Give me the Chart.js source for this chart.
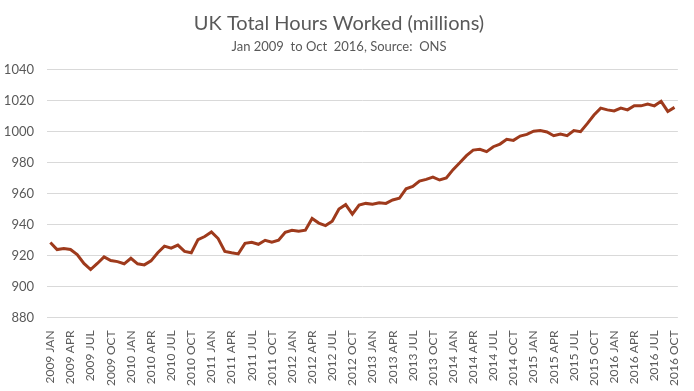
<!DOCTYPE html>
<html>
<head>
<meta charset="utf-8">
<script src="https://cdn.jsdelivr.net/npm/chart.js@4"></script>
<style>
    html, body { margin: 0; padding: 0; background: #fff; }
    #wrap { width: 694px; height: 391px; }
</style>
</head>
<body>
<div id="wrap"><canvas id="hoursChart"></canvas></div>
<script>
// Categories: monthly, Jan 2009 to Oct 2016
const years = [2009, 2010, 2011, 2012, 2013, 2014, 2015, 2016];
const months = ['JAN', 'FEB', 'MAR', 'APR', 'MAY', 'JUN', 'JUL', 'AUG', 'SEP', 'OCT', 'NOV', 'DEC'];
const lastMonthCount = 10; // 2016 stops at OCT

// Total hours worked (millions)
const hours2009 = [928.3, 923.8, 924.4, 923.8, 920.6, 914.8, 910.9, 914.8, 919.1, 916.7, 916.0, 914.6];
const hours2010 = [918.2, 914.6, 913.9, 916.5, 921.7, 926.0, 924.7, 926.7, 922.6, 921.7, 930.2, 932.2];
const hours2011 = [935.2, 930.9, 922.6, 921.7, 921.0, 927.8, 928.5, 927.2, 929.8, 928.5, 929.8, 935.0];
const hours2012 = [936.3, 935.6, 936.3, 943.9, 940.9, 939.3, 942.1, 950.0, 952.8, 946.7, 952.5, 953.6];
const hours2013 = [953.0, 954.0, 953.6, 955.8, 956.9, 963.0, 964.5, 968.0, 969.1, 970.6, 968.7, 970.0];
const hours2014 = [975.4, 979.8, 984.4, 988.0, 988.5, 987.0, 990.2, 991.9, 995.0, 994.3, 997.1, 998.2];
const hours2015 = [1000.2, 1000.6, 999.7, 997.3, 998.4, 997.3, 1000.6, 999.9, 1005.1, 1010.7, 1015.1, 1014.0];
const hours2016 = [1013.3, 1015.1, 1014.0, 1016.6, 1016.6, 1017.7, 1016.6, 1019.5, 1013.0, 1015.6];

const yMin = 880;
const yMax = 1040;
const yStep = 20;

const labels = [];
years.forEach((y, yi) => {
    const n = yi === years.length - 1 ? lastMonthCount : 12;
    for (let m = 0; m < n; m++) labels.push(y + ' ' + months[m]);
});
const values = [].concat(hours2009, hours2010, hours2011, hours2012, hours2013, hours2014, hours2015, hours2016);

const textColor = '#595959';
const fontFamily = 'Lato, "Liberation Sans", sans-serif';

const ctx = document.getElementById('hoursChart').getContext('2d');
const chart = new Chart(ctx, {
    type: 'line',
    data: {
        labels: labels,
        datasets: [{
            label: 'Total hours worked',
            data: values,
            borderColor: '#9e3a1c',
            borderWidth: 3,
            pointRadius: 0,
            tension: 0,
            fill: false
        }]
    },
    options: {
        responsive: true,
        maintainAspectRatio: false,
        animation: false,
        layout: {
            padding: { top: 10, left: 0, right: 16, bottom: 0 }
        },
        plugins: {
            legend: { display: false },
            tooltip: { enabled: false },
            title: {
                display: true,
                text: 'UK Total Hours Worked (millions)',
                color: textColor,
                font: { family: fontFamily, size: 20, weight: 'normal' },
                padding: { top: 2, bottom: 3 }
            },
            subtitle: {
                display: true,
                text: 'Jan 2009  to Oct  2016, Source:  ONS',
                color: textColor,
                font: { family: fontFamily, size: 13, weight: 'normal' },
                padding: { top: 0, bottom: 15 }
            }
        },
        scales: {
            x: {
                offset: true,
                grid: { display: false },
                border: { display: false },
                ticks: {
                    autoSkip: false,
                    maxRotation: 90,
                    minRotation: 90,
                    padding: 5,
                    color: textColor,
                    font: { family: fontFamily, size: 12 },
                    callback: function (val, index) {
                        return index % 3 === 0 ? labels[index] : '';
                    }
                }
            },
            y: {
                min: yMin,
                max: yMax,
                afterFit: function (scale) { scale.width = 47; },
                ticks: {
                    stepSize: yStep,
                    padding: 13,
                    color: textColor,
                    font: { family: fontFamily, size: 13 },
                    callback: function (val) { return String(val); }
                },
                grid: { color: '#d9d9d9', lineWidth: 1, drawTicks: false },
                border: { display: false }
            }
        }
    }
});
</script>
</body>
</html>
